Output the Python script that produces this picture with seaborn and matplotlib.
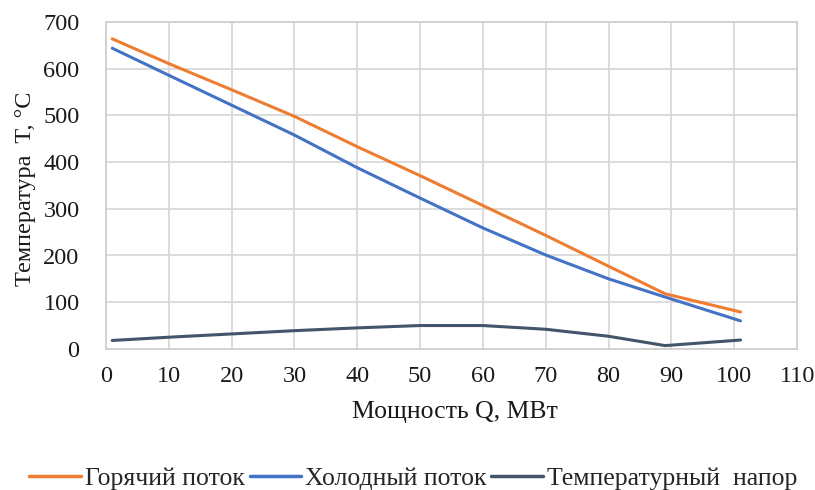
import matplotlib
matplotlib.use("Agg")
import matplotlib.pyplot as plt
import seaborn as sns
import pandas as pd

# Heat load (MW) at which the stream temperatures were evaluated
power_mw = [1, 10, 20, 30, 40, 50, 60, 70, 80, 89, 101]
# Hot stream temperature, °C
hot_stream = [664, 611, 555, 498, 433, 371, 307, 243, 177, 118, 79]
# Cold stream temperature, °C
cold_stream = [644, 586, 522, 458, 388, 323, 259, 201, 150, 111, 60]
# Temperature driving force, °C
temp_head = [18, 25, 32, 39, 45, 50, 50, 42, 27, 7, 19]

series_names = ["Горячий поток", "Холодный поток", "Температурный  напор"]
series_colors = ["#ED7D31", "#4472C4", "#44546A"]

x_ticks = list(range(0, 111, 10))
y_ticks = list(range(0, 701, 100))

df = pd.DataFrame({
    "Q": power_mw * 3,
    "T": hot_stream + cold_stream + temp_head,
    "series": [series_names[0]] * len(power_mw)
              + [series_names[1]] * len(power_mw)
              + [series_names[2]] * len(power_mw),
})

sns.set_theme(style="white")
plt.rcParams["font.family"] = ["Liberation Serif", "DejaVu Serif"]

fig = plt.figure(figsize=(8.15, 4.9), dpi=100)
ax = fig.add_axes([0.130, 0.288, 0.848, 0.667])

sns.lineplot(data=df, x="Q", y="T", hue="series", hue_order=series_names,
             palette=series_colors, linewidth=2.2, ax=ax, legend=False,
             sort=False)

ax.set_xlim(0, 110)
ax.set_ylim(0, 700)
ax.set_xticks(x_ticks)
ax.set_yticks(y_ticks)
ax.tick_params(axis="both", length=0, labelsize=17.5, colors="#1a1a1a")
ax.tick_params(axis="x", pad=12)
ax.tick_params(axis="y", pad=19)

ax.grid(True, color="#d9d9d9", linewidth=1.3)
ax.set_axisbelow(True)
for side in ["left", "bottom", "top", "right"]:
    ax.spines[side].set_color("#d0d0d0")
    ax.spines[side].set_linewidth(1.3)

ax.set_xlabel("Мощность Q, МВт", fontsize=18.5, color="#1a1a1a", va="center")
ax.xaxis.set_label_coords(0.505, -0.193)
ax.set_ylabel("Температура  T, °C", fontsize=17.5, color="#1a1a1a", va="center")
ax.yaxis.set_label_coords(-0.117, 0.49)

handles = [plt.Line2D([], [], color=c, linewidth=2.5) for c in series_colors]
fig.legend(handles, series_names, loc="center", bbox_to_anchor=(0.507, 0.024),
           ncol=3, frameon=False, fontsize=18.5, handlelength=2.0,
           handletextpad=0.15, columnspacing=0.2)

fig.savefig("out.png", dpi=100)
